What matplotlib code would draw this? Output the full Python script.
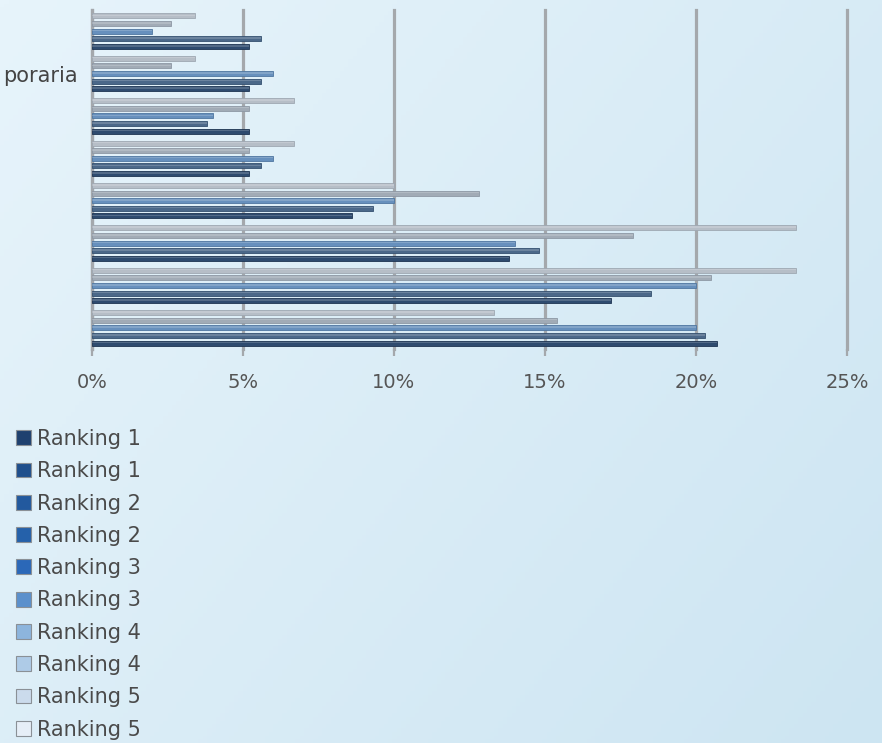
import numpy as np
import matplotlib.pyplot as plt
from matplotlib.patches import Patch
from matplotlib.colors import LinearSegmentedColormap

# categories listed bottom -> top (only one label is legible in the source)
categories = ['', '', '', '', '', '', 'poraria', '']

# percentages, bottom category first
ranking1 = [20.7, 17.2, 13.8, 8.6, 5.2, 5.2, 5.2, 5.2]
ranking2 = [20.3, 18.5, 14.8, 9.3, 5.6, 3.8, 5.6, 5.6]
ranking3 = [20.0, 20.0, 14.0, 10.0, 6.0, 4.0, 6.0, 2.0]
ranking4 = [15.4, 20.5, 17.9, 12.8, 5.2, 5.2, 2.6, 2.6]
ranking5 = [13.3, 23.3, 23.3, 10.0, 6.7, 6.7, 3.4, 3.4]

series_labels = ['Ranking 1', 'Ranking 1', 'Ranking 2', 'Ranking 2', 'Ranking 3',
                 'Ranking 3', 'Ranking 4', 'Ranking 4', 'Ranking 5', 'Ranking 5']
series_values = [ranking1, ranking1, ranking2, ranking2, ranking3,
                 ranking3, ranking4, ranking4, ranking5, ranking5]
xticks = [0, 5, 10, 15, 20, 25]

bar_colors = ['#2e4b6f', '#4b6889', '#6790bd', '#a1abb6', '#b6bec7']
bar_edges = ['#1d3452', '#34506f', '#4f76a0', '#8d98a4', '#9ea8b2']
legend_colors = ['#1f416f', '#1f4f8c', '#22599e', '#2561aa', '#2b68b8',
                 '#5b90cc', '#8db5dd', '#aecbe7', '#cbdbec', '#e6eef7']

fig = plt.figure(figsize=(8.82, 7.43), dpi=100)

# soft blue gradient background
bg = fig.add_axes([0, 0, 1, 1])
gx, gy = np.meshgrid(np.linspace(0, 1, 200), np.linspace(0, 1, 200))
cmap = LinearSegmentedColormap.from_list('bg', ['#e7f4fb', '#cde5f2'])
bg.imshow(0.6 * gx + 0.4 * gy, cmap=cmap, aspect='auto', extent=[0, 1, 0, 1])
bg.set_axis_off()

ax = fig.add_axes([92 / 882, 1 - 349 / 743, 755 / 882, 339 / 743])
ax.set_facecolor('none')

y = np.arange(len(categories))
slot = 0.18
for k in range(5):
    vals = series_values[2 * k]
    pos = y + (k - 2) * slot
    ax.barh(pos, vals, height=0.12, color=bar_colors[k], edgecolor=bar_edges[k],
            linewidth=0.6, zorder=3)
    vals_b = series_values[2 * k + 1]
    ax.barh(pos + 0.015, vals_b, height=0.035, color='white', alpha=0.18,
            linewidth=0, zorder=4)

ax.set_xlim(0, 25)
ax.set_ylim(-0.5, len(categories) - 0.5)
ax.set_xticks(xticks)
ax.set_xticklabels([f'{t}%' for t in xticks])
ax.set_yticks(y)
ax.set_yticklabels(categories)

ax.grid(axis='x', color='#a4a8ac', linewidth=2.3, zorder=1)
ax.set_axisbelow(True)
for gl in ax.get_xgridlines():
    gl.set_clip_on(False)
for s in ['top', 'right', 'bottom']:
    ax.spines[s].set_visible(False)
ax.spines['left'].set_color('#a4a8ac')
ax.spines['left'].set_linewidth(2.3)
ax.tick_params(axis='x', length=5, width=1.6, color='#a4a8ac', pad=12,
               labelsize=14, labelcolor='#555555')
ax.tick_params(axis='y', length=0, pad=10, labelsize=15, labelcolor='#444444')
for lbl in ax.get_yticklabels():
    lbl.set_va('center_baseline')

handles = [Patch(facecolor=c, edgecolor='#8a9096', linewidth=0.8) for c in legend_colors]
fig.legend(handles, series_labels, loc='upper left',
           bbox_to_anchor=(16 / 882, 1 - 429 / 743), frameon=False,
           fontsize=15, labelcolor='#4a4a4a', handlelength=0.72, handleheight=0.72,
           handletextpad=0.3, labelspacing=0.59, borderpad=0, borderaxespad=0)

fig.savefig('out.png', dpi=100)
